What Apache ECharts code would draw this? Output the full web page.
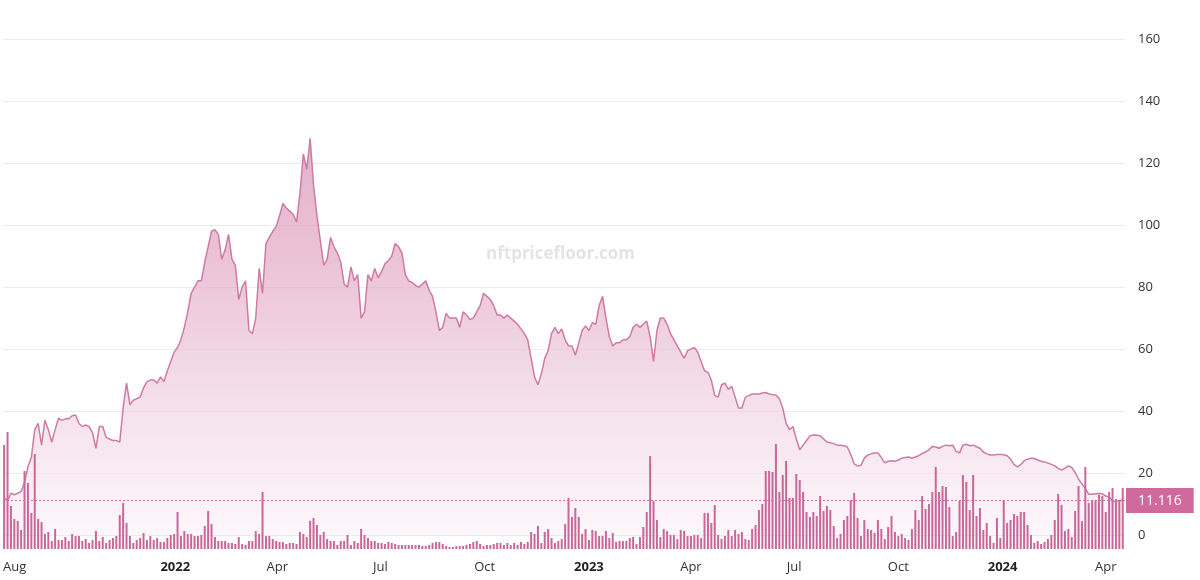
<!DOCTYPE html>
<html>
<head>
<meta charset="utf-8">
<script src="https://cdn.jsdelivr.net/npm/echarts@6/dist/echarts.min.js"></script>
<style>
  html, body { margin: 0; padding: 0; background: #fff; }
  #main { width: 1200px; height: 580px; }
</style>
</head>
<body>
<div id="main"></div>
<script>
// one point every 3 days from 2021-08-03
var startDate = [2021, 7, 3]
var stepDays = 3

var floorPrice = [
  12, 11, 13.5, 13, 13.5, 14, 17, 22, 25, 34,
  36, 29, 37, 34, 30, 34, 37.7, 37, 37.5, 37.5,
  38.5, 38.7, 36, 35, 35.5, 35, 33, 28, 35, 35,
  31.5, 31, 30.5, 30.5, 30, 41, 49, 42, 43.5, 44,
  44.5, 47.5, 49.5, 50, 50, 49, 51, 49.5, 53, 56,
  59, 60.5, 63, 67, 72, 78, 80, 82, 82, 88,
  93, 98, 98.5, 97, 89, 92, 97, 89, 87, 76,
  80, 82, 66, 65, 70, 86, 78, 94, 96, 98,
  99.5, 103, 107, 105.5, 104.5, 103.5, 101, 110, 123, 118,
  128, 113, 103, 95, 87, 89, 96, 93, 91, 88,
  81, 80, 86.5, 82, 84, 70, 72, 84, 82, 86,
  83, 85, 87.5, 88.5, 90, 94, 93, 91, 84, 82,
  81.5, 80.5, 80, 81, 82, 79, 77, 72, 66, 67,
  71.5, 70, 70, 70, 67, 72, 71, 69.5, 70, 72,
  74, 78, 77, 76, 74, 71, 71, 70, 71, 70,
  69, 68, 66.5, 65, 63, 57, 51, 48.5, 52, 57,
  59.5, 65, 67, 65, 66.5, 63, 61, 61, 58, 62,
  66, 67.5, 66, 68.5, 68, 74, 77, 70, 64, 61,
  62, 62, 63, 63, 64, 67, 68, 67, 68, 69,
  64, 56, 66, 70, 70, 68, 65, 63, 61, 59,
  57, 59.5, 60, 60.5, 59, 56, 53, 52.5, 50, 45,
  44.5, 48.5, 49, 47, 48, 44.5, 41, 41, 44.5, 45,
  45.5, 45.5, 45.5, 45.8, 46, 45.5, 45.3, 45.2, 44, 41,
  36, 34, 35, 31, 27.5, 29, 30.5, 32, 32.3, 32.2,
  32, 31, 30, 29.8, 29.5, 29, 29, 28.8, 28.4, 26,
  23, 22.3, 22.5, 24.8, 25.8, 26.2, 26.5, 26.5, 25, 23.3,
  23.8, 24, 23.8, 24.2, 24.8, 25, 25.2, 24.8, 25.2, 25.6,
  26.3, 26.8, 27.5, 28.6, 28.4, 28, 28.6, 29, 28.8, 29,
  27, 26.5, 29, 29.3, 28.8, 29, 28.5, 28, 26.8, 26.2,
  25.8, 25.8, 26, 26, 25.9, 25.6, 24.5, 22.8, 22, 22.7,
  24, 24.5, 24.8, 24.7, 24.2, 23.8, 23.6, 23.2, 22.8, 22.3,
  21.5, 21, 21.5, 22.3, 21.8, 20.2, 18, 16.5, 15, 13.2,
  13.2, 13.3, 13.4, 13.3, 12.6, 12.3, 11, 10.8, 11.2, 11.116
]

var volume = [
  104, 117, 43, 30, 28, 19, 78, 66, 36, 95,
  30, 27, 15, 17, 8, 20, 9, 9, 12, 8,
  15, 13, 13, 8, 10, 6, 9, 18, 8, 12,
  6, 9, 11, 13, 34, 46, 26, 13, 6, 9,
  11, 16, 9, 13, 9, 11, 7, 7, 11, 14,
  15, 37, 13, 18, 15, 15, 13, 13, 14, 23,
  38, 25, 12, 8, 8, 8, 6, 6, 5, 12,
  5, 4, 8, 8, 18, 15, 57, 13, 13, 10,
  8, 7, 7, 5, 6, 6, 5, 17, 15, 12,
  28, 31, 24, 14, 17, 10, 8, 8, 4, 8,
  8, 14, 4, 8, 6, 20, 14, 11, 8, 8,
  6, 6, 5, 7, 6, 5, 4, 4, 4, 4,
  4, 4, 4, 3, 3, 4, 6, 7, 7, 5,
  3, 2, 2, 3, 3, 3, 4, 5, 7, 8,
  5, 3, 4, 4, 5, 6, 6, 4, 6, 4,
  6, 4, 7, 5, 7, 17, 15, 23, 6, 17,
  20, 11, 6, 8, 10, 25, 51, 32, 41, 32,
  15, 20, 9, 19, 18, 13, 13, 18, 11, 16,
  7, 8, 8, 8, 11, 12, 5, 12, 22, 37,
  93, 48, 29, 12, 20, 18, 14, 14, 10, 19,
  18, 13, 13, 14, 14, 11, 36, 36, 26, 44,
  14, 10, 13, 19, 13, 19, 15, 17, 10, 9,
  20, 24, 39, 45, 78, 78, 77, 105, 57, 74,
  88, 51, 51, 75, 69, 57, 37, 32, 37, 33,
  53, 38, 43, 39, 23, 11, 15, 29, 33, 49,
  56, 31, 13, 29, 20, 19, 16, 29, 20, 10,
  22, 33, 17, 13, 15, 11, 9, 20, 39, 29,
  53, 40, 45, 57, 82, 57, 63, 62, 42, 13,
  17, 48, 74, 67, 39, 74, 33, 41, 19, 26,
  13, 6, 31, 11, 49, 26, 29, 35, 33, 37,
  37, 24, 14, 6, 8, 5, 7, 10, 14, 29,
  55, 44, 18, 20, 12, 38, 63, 28, 82, 46,
  49, 49, 54, 53, 37, 57, 61, 50, 49, 61
]

var lastPrice = 11.116
var priceTicks = [0, 20, 40, 60, 80, 100, 120, 140, 160]
var dateTicks = [
  [2021, 7, 2], [2022, 0, 1], [2022, 3, 1], [2022, 6, 1], [2022, 9, 1],
  [2023, 0, 1], [2023, 3, 1], [2023, 6, 1], [2023, 9, 1],
  [2024, 0, 1], [2024, 3, 1]
]
var dateTickLabels = ['Aug', '2022', 'Apr', 'Jul', 'Oct', '2023', 'Apr', 'Jul', 'Oct', '2024', 'Apr']

function toTime(d) {
  return new Date(d[0], d[1], d[2]).getTime()
}

var priceData = [],
  volumeData = []
for (var i = 0; i < floorPrice.length; i++) {
  var t = new Date(startDate[0], startDate[1], startDate[2] + stepDays * i).getTime()
  priceData.push([t, floorPrice[i]])
  volumeData.push([t, volume[i]])
}

var tickTimes = dateTicks.map(toTime)
var labelFont = 'Open Sans'

var chart = echarts.init(document.getElementById('main'), null, { renderer: 'canvas' })
chart.setOption({
  animation: false,
  backgroundColor: '#ffffff',
  graphic: [{
    type: 'text',
    left: 486,
    top: 246,
    z: 0,
    style: {
      text: 'nftpricefloor.com',
      fill: '#e4e4e4',
      font: 'bold 17px "Open Sans"'
    }
  }],
  grid: { left: 0, right: 75, top: 5, bottom: 31 },
  xAxis: {
    // timestamps on a value axis so the quarter labels can be placed exactly
    type: 'value',
    min: toTime([2021, 7, 2]),
    max: toTime([2024, 3, 18]),
    axisLine: { show: false },
    axisTick: { show: false },
    splitLine: { show: false },
    axisLabel: {
      customValues: tickTimes,
      alignMinLabel: 'left',
      margin: 12,
      color: '#333',
      fontSize: 13,
      fontFamily: labelFont,
      formatter: function(v) {
        var k = tickTimes.indexOf(v)
        var s = k >= 0 ? dateTickLabels[k] : ''
        return /^\d{4}$/.test(s) ? '{y|' + s + '}' : s
      },
      rich: {
        y: { fontWeight: 'bold', fontSize: 13, color: '#222', fontFamily: labelFont }
      }
    }
  },
  yAxis: [{
    type: 'value',
    position: 'right',
    min: -4.5,
    max: 171,
    axisLine: { show: false },
    axisTick: { show: false, customValues: priceTicks },
    axisLabel: {
      customValues: priceTicks,
      margin: 13,
      color: '#333',
      fontSize: 13,
      fontFamily: labelFont
    },
    splitLine: { show: true, lineStyle: { color: '#ebebeb', width: 1 } }
  }, {
    type: 'value',
    min: 0,
    max: 544,
    show: false,
    splitLine: { show: false }
  }],
  series: [{
    name: 'Floor price',
    type: 'line',
    data: priceData,
    showSymbol: false,
    z: 2,
    lineStyle: { color: '#cf7aa4', width: 1.5 },
    areaStyle: {
      color: new echarts.graphic.LinearGradient(0, 0, 0, 1, [
        { offset: 0, color: '#d890b4' },
        { offset: 0.3, color: '#e2a8c5' },
        { offset: 0.65, color: '#efd1e0' },
        { offset: 1, color: '#fcf3f8' }
      ])
    },
    markLine: {
      silent: true,
      symbol: 'none',
      lineStyle: { color: '#cf6f9e', type: [2, 2], width: 1 },
      label: {
        show: true,
        position: 'end',
        distance: 1,
        formatter: String(lastPrice),
        backgroundColor: '#d0699c',
        color: '#fff',
        fontSize: 14,
        fontFamily: labelFont,
        padding: [6, 12, 5, 12]
      },
      data: [{ yAxis: lastPrice }]
    }
  }, {
    name: 'Volume',
    type: 'bar',
    yAxisIndex: 1,
    data: volumeData,
    barWidth: 2,
    z: 3,
    itemStyle: { color: '#c9679a' }
  }]
})
</script>
</body>
</html>
